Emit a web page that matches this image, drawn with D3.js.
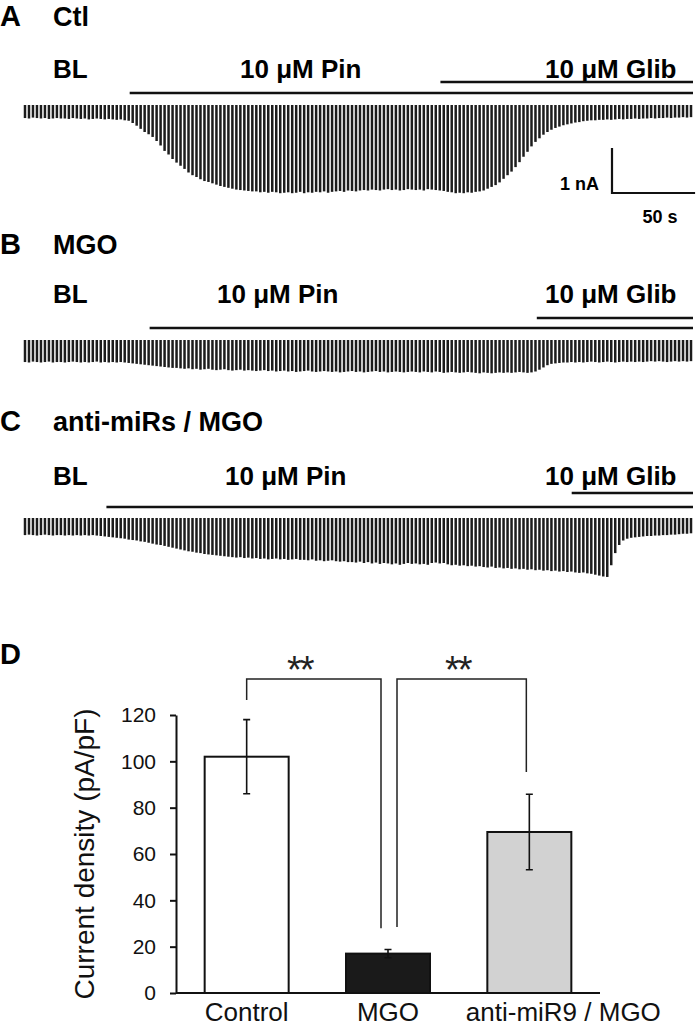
<!DOCTYPE html>
<html>
<head>
<meta charset="utf-8">
<script src="https://cdn.jsdelivr.net/npm/d3@7"></script>
<style>
  body { margin: 0; background: #fff; }
  svg { display: block; font-family: "Liberation Sans", Arial, sans-serif; }
</style>
</head>
<body>
<div id="chart"></div>
<script>
const ampCtl = [
  0.29,0.30,0.28,0.29,0.30,0.29,0.31,0.30,0.29,0.30,
  0.30,0.31,0.29,0.30,0.31,0.30,0.32,0.31,0.30,0.31,
  0.32,0.31,0.32,0.33,0.32,0.34,0.35,
  0.40,0.46,0.53,0.60,0.65,0.71,0.80,0.90,1.02,1.10,1.20,1.28,1.35,1.42,
  1.50,1.56,1.60,1.65,1.69,1.71,1.74,1.77,1.80,1.82,1.84,1.86,1.88,1.89,1.90,1.91,1.92,1.92,
  1.94,1.93,1.95,1.93,1.94,1.96,1.95,1.94,1.96,1.95,1.93,1.96,1.94,1.95,1.93,1.94,1.92,1.95,1.93,1.92,1.91,1.93,1.90,1.91,1.92,1.90,
  1.89,1.90,1.88,1.89,1.90,1.88,1.87,1.89,1.88,1.90,1.89,1.87,1.88,1.89,1.88,1.90,1.87,1.88,1.89,1.90,1.91,
  1.93,1.94,1.96,1.95,1.96,1.94,1.95,1.93,1.92,
  1.90,1.86,1.82,1.78,1.72,1.64,1.56,1.48,1.38,1.27,1.15,1.04,0.92,0.82,0.74,0.66,0.60,0.55,0.51,0.48,0.45,0.43,0.41,0.39,0.38,0.36,
  0.35,0.34,0.34,0.33,0.33,0.32,0.33,0.32,0.31,0.32,0.31,0.31,0.30,0.31,0.30,0.30,0.29,0.30,0.29,0.29,0.28,0.29,0.28,0.28,0.27,0.28,0.27
];
const ampMGO = [
  0.49,0.50,0.48,0.49,0.50,0.49,0.48,0.50,0.49,0.49,
  0.50,0.49,0.48,0.49,0.50,0.49,0.50,0.49,0.48,0.50,
  0.49,0.50,0.49,0.50,0.49,0.50,0.51,
  0.52,0.53,0.54,0.55,0.56,0.57,0.58,0.59,0.60,0.61,0.62,
  0.62,0.63,0.64,0.63,0.65,0.64,0.66,0.65,0.64,0.66,0.67,0.66,0.65,0.67,0.68,0.67,0.66,0.68,0.67,0.68,0.69,
  0.68,0.67,0.69,0.68,0.70,0.69,0.68,0.70,0.69,0.71,0.70,0.69,0.68,0.70,0.71,0.70,0.69,0.70,0.71,0.70,0.72,
  0.71,0.70,0.69,0.71,0.70,0.72,0.71,0.70,0.69,0.71,0.70,0.72,0.71,0.70,0.71,0.72,0.71,0.70,0.71,0.72,0.70,
  0.71,0.72,0.70,0.71,0.73,0.72,0.71,0.72,0.73,0.72,0.71,0.72,0.73,0.74,0.72,0.73,0.74,0.73,0.72,0.73,
  0.72,0.73,0.72,0.71,0.72,0.73,0.72,
  0.70,0.66,0.61,0.56,0.53,0.52,0.51,0.50,
  0.50,0.49,0.50,0.49,0.50,0.49,0.48,0.49,0.50,0.49,0.48,0.49,0.50,0.49,0.48,0.49,0.48,0.49,0.48,0.49,0.48,0.47,0.48,0.47,
  0.48,0.49,0.48,0.47,0.48,0.47,0.48,0.47
];
const ampAnti = [
  0.38,0.37,0.38,0.39,0.38,0.37,0.38,0.39,0.38,0.38,
  0.39,0.38,0.39,0.38,0.39,0.38,0.39,0.38,0.39,
  0.40,0.41,0.42,0.43,0.44,0.45,0.46,0.48,0.49,
  0.50,0.52,0.53,0.55,0.57,0.59,0.60,0.62,0.64,
  0.66,0.68,0.70,0.72,0.74,0.75,0.77,0.78,
  0.80,0.81,0.82,0.83,0.84,0.85,0.86,0.87,
  0.88,0.87,0.89,0.88,0.90,0.89,0.91,0.90,0.92,0.91,0.90,0.92,0.91,0.93,0.92,0.91,0.93,
  0.93,0.94,0.92,0.95,0.94,0.96,0.95,0.94,0.96,0.97,0.96,0.98,
  0.98,0.99,0.97,1.00,0.98,1.01,0.99,1.02,1.00,1.01,
  1.03,1.01,1.04,1.02,1.00,1.02,1.01,1.03,1.02,1.04,
  1.00,0.99,1.01,1.00,1.03,1.05,1.04,1.06,1.05,1.07,
  1.06,1.08,1.07,1.09,1.10,1.08,1.11,1.10,1.12,1.11,
  1.13,1.12,1.14,1.13,1.15,1.14,1.16,1.15,1.17,1.16,
  1.18,1.17,1.19,1.18,1.20,1.19,1.21,1.22,1.21,1.23,
  1.24,1.26,1.28,1.30,
  1.31,1.05,0.78,0.60,0.50,0.46,
  0.44,0.43,0.42,0.41,0.40,0.40,0.39,0.39,0.38,0.38,0.37,0.37,0.36,0.35,0.35,0.34
];

const sweepInterval = 2.4;              // s entre varreduras
const traceTitles = ["Ctl", "MGO", "anti-miRs / MGO"];
const traceLetters = ["A", "B", "C"];
const pinOnset = [63, 75, 49];          // s
const glibOnset = [250, 308, 329];      // s
const recordEnd = 402;                  // s

// Painel D
const groups = ["Control", "MGO", "anti-miR9 / MGO"];
const means = [102, 17, 69.5];
const sems = [16, 1.8, 16.3];
const barColors = ["#ffffff", "#1a1a1a", "#d2d2d2"];
const yTicks = [0, 20, 40, 60, 80, 100, 120];

const svg = d3.select("#chart").append("svg")
  .attr("width", 700).attr("height", 1027);

// escalas dos traçados
const tScale = d3.scaleLinear().domain([0, recordEnd]).range([25, 693]);
const aScale = d3.scaleLinear().domain([0, 1]).range([0, 45]);

const traces = [ampCtl, ampMGO, ampAnti];
// posições verticais de cada painel (topo do traço, linha Pin, linha Glib, título, rótulos)
const layout = [
  { title: 26, label: 78, pin: 93, glib: 82, top: 105 },
  { title: 254, label: 303, pin: 328, glib: 318, top: 340 },
  { title: 431, label: 485, pin: 507, glib: 493, top: 518 }
];
const pinLabelX = [240, 217, 225];

traces.forEach((amps, k) => {
  const L = layout[k];
  const g = svg.append("g");

  g.append("text").attr("x", 0).attr("y", L.title)
    .attr("font-size", 29).attr("font-weight", "bold").text(traceLetters[k]);
  g.append("text").attr("x", 53).attr("y", L.title)
    .attr("font-size", 27).attr("font-weight", "bold").text(traceTitles[k]);

  g.append("text").attr("x", 53).attr("y", L.label)
    .attr("font-size", 26).attr("font-weight", "bold").text("BL");
  g.append("text").attr("x", pinLabelX[k]).attr("y", L.label)
    .attr("font-size", 26).attr("font-weight", "bold").text("10 μM Pin");
  g.append("text").attr("x", 545).attr("y", L.label)
    .attr("font-size", 26).attr("font-weight", "bold").text("10 μM Glib");

  // linhas de aplicação das drogas
  g.append("line")
    .attr("x1", tScale(pinOnset[k])).attr("x2", tScale(recordEnd))
    .attr("y1", L.pin).attr("y2", L.pin)
    .attr("stroke", "#111").attr("stroke-width", 2.5);
  g.append("line")
    .attr("x1", tScale(glibOnset[k])).attr("x2", tScale(recordEnd))
    .attr("y1", L.glib).attr("y2", L.glib)
    .attr("stroke", "#111").attr("stroke-width", 2.5);

  // varreduras
  g.selectAll("line.sweep")
    .data(amps)
    .join("line")
    .attr("class", "sweep")
    .attr("x1", (d, i) => tScale(i * sweepInterval))
    .attr("x2", (d, i) => tScale(i * sweepInterval))
    .attr("y1", L.top)
    .attr("y2", d => L.top + aScale(d))
    .attr("stroke", "#1c1c1c")
    .attr("stroke-width", 2.5);
});

// barra de escala
const sbX = 612, sbY = 193;
svg.append("path")
  .attr("d", `M${sbX},${sbY - aScale(1)}V${sbY}H${sbX + tScale(50) - tScale(0)}`)
  .attr("fill", "none").attr("stroke", "#111").attr("stroke-width", 2.2);
svg.append("text").attr("x", 599).attr("y", 190).attr("text-anchor", "end")
  .attr("font-size", 18).attr("font-weight", "bold").text("1 nA");
svg.append("text").attr("x", 660).attr("y", 223).attr("text-anchor", "middle")
  .attr("font-size", 18).attr("font-weight", "bold").text("50 s");

// ---- Painel D ----
const y = d3.scaleLinear().domain([0, 120]).range([993, 715]);
const x = d3.scaleBand().domain(groups).range([176, 600]);
const barW = 84;

svg.append("text").attr("x", 0).attr("y", 664)
  .attr("font-size", 29).attr("font-weight", "bold").text("D");

const yAxis = svg.append("g")
  .attr("transform", "translate(176,0)")
  .call(d3.axisLeft(y).tickValues(yTicks).tickSize(6).tickSizeOuter(0).tickPadding(14));
yAxis.select(".domain").attr("stroke", "#111").attr("stroke-width", 2);
yAxis.selectAll(".tick line").attr("stroke", "#111").attr("stroke-width", 2);
yAxis.selectAll(".tick text").attr("font-size", 21).attr("fill", "#111")
  .attr("font-family", "Liberation Sans, Arial, sans-serif");

svg.append("text")
  .attr("transform", `translate(94,${(y(0) + y(120)) / 2}) rotate(-90)`)
  .attr("text-anchor", "middle").attr("font-size", 28).attr("fill", "#111")
  .text("Current density (pA/pF)");

// barras
svg.selectAll("rect.bar")
  .data(groups)
  .join("rect")
  .attr("class", "bar")
  .attr("x", d => x(d) + x.bandwidth() / 2 - barW / 2)
  .attr("y", (d, i) => y(means[i]))
  .attr("width", barW)
  .attr("height", (d, i) => y(0) - y(means[i]))
  .attr("fill", (d, i) => barColors[i])
  .attr("stroke", "#111").attr("stroke-width", 2);

// barras de erro
groups.forEach((gname, i) => {
  const cx = x(gname) + x.bandwidth() / 2;
  const top = y(means[i] + sems[i]);
  const bot = y(means[i] - sems[i]);
  svg.append("path")
    .attr("d", `M${cx},${top}V${bot}M${cx - 3.5},${top}H${cx + 3.5}M${cx - 3.5},${bot}H${cx + 3.5}`)
    .attr("stroke", "#111").attr("stroke-width", 1.6).attr("fill", "none");
});

// eixo x
svg.append("line").attr("x1", 176).attr("x2", 600)
  .attr("y1", y(0)).attr("y2", y(0)).attr("stroke", "#111").attr("stroke-width", 2);

const labelShift = [0, 0, 34];
groups.forEach((gname, i) => {
  svg.append("text")
    .attr("x", x(gname) + x.bandwidth() / 2 + labelShift[i])
    .attr("y", 1021).attr("text-anchor", "middle")
    .attr("font-size", 26).attr("fill", "#111").text(gname);
});

// colchetes de significância
const bracketTop = 135.5;
const brackets = [
  { a: 0, b: 1, da: 126.5, db: 28, offA: 0, offB: -7 },
  { a: 1, b: 2, da: 28.5, db: 95.4, offA: 9, offB: -3 }
];
brackets.forEach(br => {
  const xa = x(groups[br.a]) + x.bandwidth() / 2 + br.offA;
  const xb = x(groups[br.b]) + x.bandwidth() / 2 + br.offB;
  svg.append("path")
    .attr("d", `M${xa},${y(br.da)}V${y(bracketTop)}H${xb}V${y(br.db)}`)
    .attr("fill", "none").attr("stroke", "#222").attr("stroke-width", 1.5);
  svg.append("text")
    .attr("x", (xa + xb) / 2 - (br.a === 0 ? 14 : 4)).attr("y", y(bracketTop) + 4)
    .attr("text-anchor", "middle").attr("font-size", 38).attr("fill", "#222")
    .attr("letter-spacing", -2)
    .text("**");
});
</script>
</body>
</html>
